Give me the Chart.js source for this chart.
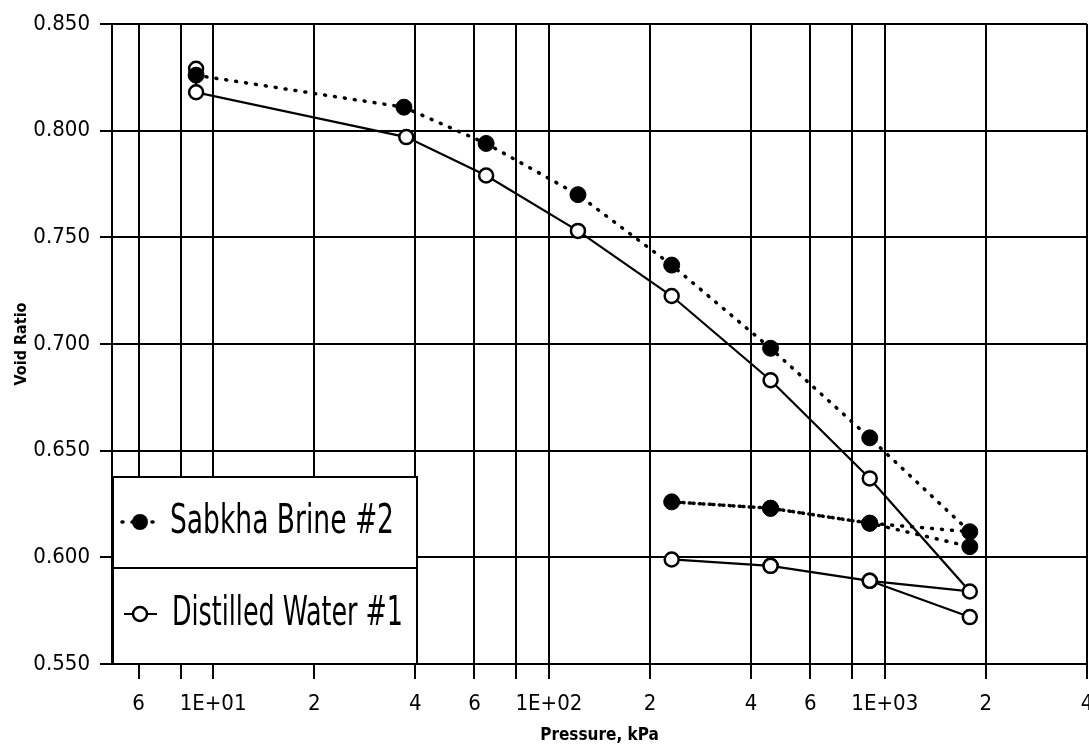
<!DOCTYPE html>
<html>
<head>
<meta charset="utf-8">
<title>Void Ratio vs Pressure</title>
<script src="https://cdn.jsdelivr.net/npm/chart.js@4/dist/chart.umd.min.js"></script>
<style>
  html, body { margin: 0; padding: 0; background: #fff; }
  #wrap { width: 1089px; height: 749px; }
</style>
</head>
<body>
<div id="wrap"><canvas id="voidChart" width="1089" height="749"></canvas></div>
<script>
// oedometer runs, void ratio against pressure (kPa), load - unload - reload
const brinePressure = [8.9, 37, 65, 122, 232, 457, 902, 1791, 902, 457, 232, 457, 902, 1791];
const brineVoid = [0.826, 0.811, 0.794, 0.770, 0.737, 0.698, 0.656, 0.612, 0.616, 0.623, 0.626, 0.623, 0.616, 0.605];
const waterPressure = [8.9, 8.9, 37.6, 65, 122, 232, 457, 902, 1791, 902, 457, 232, 457, 902, 1791];
const waterVoid = [0.829, 0.818, 0.797, 0.779, 0.753, 0.7225, 0.683, 0.637, 0.584, 0.589, 0.596, 0.599, 0.596, 0.589, 0.572];

const seriesNames = ['Sabkha Brine #2', 'Distilled Water #1'];
const xTickValues = [6, 8, 10, 20, 40, 60, 80, 100, 200, 400, 600, 800, 1000, 2000, 4000];
const xTickLabels = ['6', '', '1E+01', '2', '4', '6', '', '1E+02', '2', '4', '6', '', '1E+03', '2', '4'];
const yTickValues = [0.55, 0.60, 0.65, 0.70, 0.75, 0.80, 0.85];

const FONT = '"Liberation Sans Narrow", "DejaVu Sans Condensed", "Liberation Sans", sans-serif';

function toPoints(xs, ys) {
    return xs.map((x, i) => ({ x: x, y: ys[i] }));
}

// boxed legend sitting in the lower left corner of the plot
const legendBox = {
    id: 'legendBox',
    afterDraw(chart) {
        const ctx = chart.ctx;
        const area = chart.chartArea;
        const w = 304, h = 187, split = 91;
        const left = area.left + 1, top = area.bottom - h;
        ctx.save();
        ctx.fillStyle = '#fff';
        ctx.fillRect(left, top, w, h);
        ctx.strokeStyle = '#000';
        ctx.lineWidth = 2;
        ctx.strokeRect(left, top, w, h);
        ctx.beginPath();
        ctx.moveTo(left, top + split);
        ctx.lineTo(left + w, top + split);
        ctx.stroke();

        const rows = [top + 45, top + split + 46];
        const mx = left + 27;

        // brine sample: dotted line + filled dot
        ctx.setLineDash([1, 9]);
        ctx.lineCap = 'round';
        ctx.lineWidth = 3.5;
        ctx.beginPath();
        ctx.moveTo(left + 9, rows[0]);
        ctx.lineTo(left + 46, rows[0]);
        ctx.stroke();
        ctx.setLineDash([]);
        ctx.beginPath();
        ctx.arc(mx, rows[0], 8, 0, Math.PI * 2);
        ctx.fillStyle = '#000';
        ctx.fill();

        // water sample: solid line + open circle
        ctx.lineCap = 'butt';
        ctx.lineWidth = 2;
        ctx.beginPath();
        ctx.moveTo(left + 11, rows[1]);
        ctx.lineTo(left + 44, rows[1]);
        ctx.stroke();
        ctx.beginPath();
        ctx.arc(mx, rows[1], 7, 0, Math.PI * 2);
        ctx.fillStyle = '#fff';
        ctx.fill();
        ctx.lineWidth = 2.5;
        ctx.stroke();

        ctx.fillStyle = '#000';
        ctx.font = '40px ' + FONT;
        ctx.textBaseline = 'middle';
        ctx.textAlign = 'left';
        ctx.fillText(seriesNames[0], left + 57, rows[0] + 1, 224);
        ctx.fillText(seriesNames[1], left + 59, rows[1] + 1, 231);
        ctx.restore();
    }
};

const ctx = document.getElementById('voidChart').getContext('2d');
new Chart(ctx, {
    type: 'line',
    data: {
        datasets: [{
            label: seriesNames[0],
            data: toPoints(brinePressure, brineVoid),
            borderColor: '#000',
            borderWidth: 3.5,
            borderDash: [1, 9],
            borderCapStyle: 'round',
            backgroundColor: '#000',
            pointBackgroundColor: '#000',
            pointBorderColor: '#000',
            pointRadius: 8,
            pointBorderWidth: 1,
            tension: 0,
            fill: false
        }, {
            label: seriesNames[1],
            data: toPoints(waterPressure, waterVoid),
            borderColor: '#000',
            borderWidth: 2.2,
            backgroundColor: '#fff',
            pointBackgroundColor: '#fff',
            pointBorderColor: '#000',
            pointRadius: 7,
            pointBorderWidth: 2.5,
            tension: 0,
            fill: false
        }]
    },
    options: {
        responsive: false,
        animation: false,
        layout: { autoPadding: false, padding: { top: 24, right: 2, left: 0, bottom: 0 } },
        plugins: {
            legend: { display: false },
            tooltip: { enabled: false }
        },
        scales: {
            x: {
                type: 'logarithmic',
                min: 5,
                max: 4000,
                afterBuildTicks: axis => { axis.ticks = xTickValues.map(v => ({ value: v })); },
                afterFit: axis => {
                    axis.height = 85;
                    axis.paddingLeft = 0;
                    axis.paddingRight = 0;
                },
                ticks: {
                    autoSkip: false,
                    maxRotation: 0,
                    color: '#000',
                    padding: 12,
                    font: { family: FONT, size: 22 },
                    callback: (v, i) => xTickLabels[i]
                },
                grid: { color: '#000', lineWidth: 2, tickLength: 15 },
                border: { display: true, color: '#000', width: 2 },
                title: {
                    display: true,
                    text: 'Pressure, kPa',
                    color: '#000',
                    font: { family: FONT, size: 17, weight: 'bold' },
                    padding: { top: 0, bottom: 3 }
                }
            },
            y: {
                min: 0.55,
                max: 0.85,
                afterBuildTicks: axis => { axis.ticks = yTickValues.map(v => ({ value: v })); },
                afterFit: axis => { axis.width = 112; },
                ticks: {
                    color: '#000',
                    padding: 10,
                    font: { family: FONT, size: 22 },
                    callback: v => Number(v).toFixed(3)
                },
                grid: { color: '#000', lineWidth: 2, tickLength: 12 },
                border: { display: true, color: '#000', width: 2 },
                title: {
                    display: true,
                    text: 'Void Ratio',
                    color: '#000',
                    font: { family: FONT, size: 16, weight: 'bold' },
                    padding: { top: 12, bottom: 0 }
                }
            }
        }
    },
    plugins: [legendBox]
});
</script>
</body>
</html>
